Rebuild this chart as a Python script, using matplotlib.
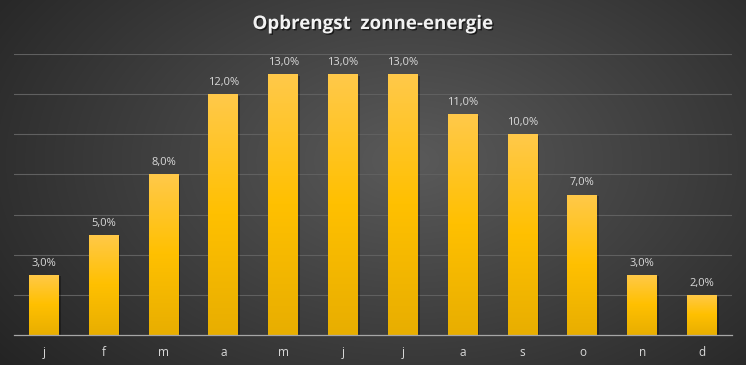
import numpy as np
import matplotlib
matplotlib.use("Agg")
import matplotlib.pyplot as plt
from matplotlib.colors import LinearSegmentedColormap
from matplotlib import patheffects

# --- data ---
maanden = ["j", "f", "m", "a", "m", "j", "j", "a", "s", "o", "n", "d"]
opbrengst = [3.0, 5.0, 8.0, 12.0, 13.0, 13.0, 13.0, 11.0, 10.0, 7.0, 3.0, 2.0]
titel = "Opbrengst  zonne-energie"

plt.rcParams['font.family'] = ['Open Sans', 'DejaVu Sans']

fig = plt.figure(figsize=(7.46, 3.65), dpi=100)

# radial background
bg = fig.add_axes([0, 0, 1, 1], zorder=-10)
yy, xx = np.mgrid[0:365, 0:746]
r = np.sqrt(((xx - 410) / 520.0) ** 2 + ((yy - 160) / 330.0) ** 2)
r = np.clip(r, 0, 1)
c_mid = np.array([0x5a, 0x5a, 0x5a]) / 255
c_edge = np.array([0x24, 0x24, 0x24]) / 255
img = c_mid[None, None, :] * (1 - r[..., None]) + c_edge[None, None, :] * r[..., None]
bg.imshow(img, aspect='auto', extent=[0, 1, 0, 1])
bg.axis('off')

ax = fig.add_axes([14 / 746, 30 / 365, 718 / 746, 281 / 365])
ax.set_facecolor('none')
x = np.arange(len(maanden))
bars = ax.bar(x, opbrengst, width=0.5, color='#ffc000', zorder=3)

goud = LinearSegmentedColormap.from_list('goud', ['#ffc94a', '#ffc000', '#e8ae00'])
grad = np.linspace(0, 1, 256)[:, None]
for b in bars:
    b.set_path_effects([patheffects.SimplePatchShadow(offset=(1.2, -1.2), shadow_rgbFace='black', alpha=0.3),
                        patheffects.Normal()])
    im = ax.imshow(grad, cmap=goud, aspect='auto', zorder=4,
                   extent=[b.get_x(), b.get_x() + b.get_width(), 0, b.get_height()], origin='upper')
    im.set_clip_path(b)

for xi, v in zip(x, opbrengst):
    ax.text(xi, v + 0.3, f"{v:.1f}%".replace(".", ","), ha='center', va='bottom',
            fontsize=8, color='#d9d9d9', zorder=5)

ax.set_xlim(-0.5, len(maanden) - 0.5)
ax.set_ylim(0, 14)
ax.set_yticks(np.arange(2, 15, 2))
ax.yaxis.grid(True, color='#606060', linewidth=0.8, zorder=0)
ax.tick_params(axis='y', left=False, labelleft=False)
ax.set_xticks(x)
ax.set_xticklabels(maanden, color='#d9d9d9', fontsize=8.5)
ax.tick_params(axis='x', length=0, pad=8)
for s in ['top', 'right', 'left']:
    ax.spines[s].set_visible(False)
ax.spines['bottom'].set_color('#a6a6a6')
ax.spines['bottom'].set_linewidth(0.9)
ax.spines['bottom'].set_zorder(6)

fig.text(373 / 746, 1 - 24 / 365, titel, ha='center', va='center', fontsize=13.5,
         fontweight='bold', color='#f2f2f2',
         path_effects=[patheffects.withSimplePatchShadow(offset=(1, -1), shadow_rgbFace='black', alpha=0.6)])

fig.savefig('out.png', dpi=100)
